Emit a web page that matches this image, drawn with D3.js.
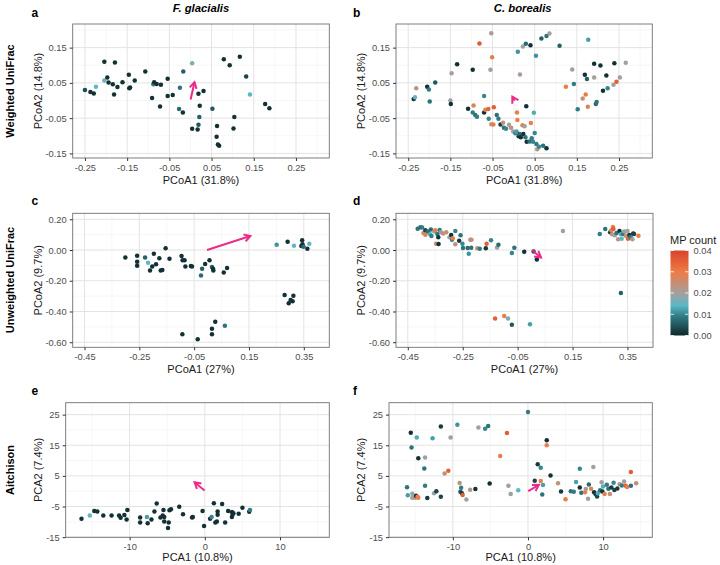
<!DOCTYPE html>
<html><head><meta charset="utf-8">
<script src="https://cdn.jsdelivr.net/npm/d3@7"></script>
<style>body{margin:0;background:#fff}svg{display:block}text{font-family:"Liberation Sans",Arial,Helvetica,sans-serif}</style>
</head><body><svg id="c" width="720" height="565"></svg>
<script>
// ---------- DATA ----------
// a: F. glacialis, weighted UniFrac
const aX=[-0.250,-0.237,-0.229,-0.224,-0.204,-0.204,-0.197,-0.194,-0.184,-0.179,-0.181,-0.173,-0.161,-0.146,-0.145,-0.143,-0.132,-0.107,-0.091,-0.088,-0.086,-0.080,-0.070,-0.072,-0.054,-0.054,-0.042,-0.025,-0.027,-0.017,-0.018,0.004,0.004,0.017,0.019,0.019,0.022,0.021,0.031,0.052,0.063,0.062,0.065,0.068,0.079,0.093,0.104,0.102,0.117,0.132,0.141,0.177,0.187];
const aY=[0.030,0.024,0.020,0.039,0.110,0.057,0.065,0.051,0.046,0.108,0.017,0.038,0.052,0.073,0.035,0.037,0.057,0.082,0.007,0.046,0.052,0.047,0.045,-0.017,0.062,0.013,0.016,0.036,-0.024,0.082,-0.034,0.106,-0.080,-0.082,-0.069,0.019,-0.015,-0.047,0.027,-0.023,-0.072,-0.103,-0.125,-0.128,0.117,0.100,-0.047,-0.079,0.124,0.068,0.017,-0.010,-0.022];
const aMP=[0.004,0.001,0.001,0.014,0.001,0.016,0.001,0.001,0.001,0.001,0.001,0.001,0.001,0.001,0.001,0.001,0.001,0.001,0.001,0.009,0.001,0.001,0.001,0.001,0.001,0.001,0.001,0.008,0.007,0.006,0.001,0.017,0.001,0.001,0.005,0.001,0.001,0.006,0.001,0.005,0.001,0.001,0.001,0.001,0.001,0.001,0.001,0.001,0.001,0.003,0.014,0.001,0.001];
const aArrow=[0.0004,0.003,0.0095,0.052];
// b: C. borealis, weighted UniFrac
const bX=[-0.237,-0.234,-0.231,-0.205,-0.201,-0.199,-0.186,-0.150,-0.149,-0.147,-0.134,-0.108,-0.097,-0.095,-0.097,-0.091,-0.087,-0.081,-0.070,-0.070,-0.067,-0.060,-0.059,-0.055,-0.053,-0.051,-0.053,-0.048,-0.047,-0.040,-0.036,-0.031,-0.025,-0.023,-0.018,-0.011,-0.006,-0.001,0.004,0.007,0.010,0.008,0.009,0.012,0.014,0.015,0.017,0.021,0.022,0.023,0.026,0.028,0.029,0.030,0.031,0.040,0.038,0.041,0.043,0.046,0.048,0.050,0.053,0.054,0.056,0.060,0.066,0.070,0.078,0.078,0.085,0.109,0.124,0.139,0.143,0.152,0.164,0.169,0.171,0.174,0.177,0.176,0.191,0.191,0.195,0.197,0.206,0.212,0.220,0.223,0.237,0.239,0.244,0.252,0.266];
const bY=[0.004,0.009,0.035,0.039,0.031,-0.003,0.051,0.000,-0.010,0.077,0.103,-0.023,0.087,-0.014,-0.034,-0.041,-0.046,0.162,0.013,-0.034,-0.026,-0.024,-0.052,0.087,0.191,0.123,-0.067,-0.068,-0.019,-0.041,-0.052,-0.068,-0.063,-0.077,-0.080,-0.069,-0.077,-0.088,-0.093,-0.088,0.138,-0.034,-0.055,-0.101,-0.095,0.074,-0.104,-0.070,0.153,-0.095,-0.073,-0.104,0.161,-0.016,-0.117,0.157,-0.116,-0.064,-0.107,-0.117,-0.035,-0.092,0.127,-0.123,-0.138,-0.131,0.176,-0.128,-0.135,0.183,0.190,0.155,0.039,0.088,0.047,-0.025,0.006,0.073,0.017,0.061,0.172,-0.018,0.104,0.065,-0.010,-0.004,0.099,0.028,0.071,0.035,0.045,0.106,0.053,0.065,0.107];
const bMP=[0.001,0.015,0.023,0.001,0.009,0.008,0.005,0.019,0.001,0.020,0.001,0.001,0.001,0.028,0.009,0.008,0.009,0.036,0.010,0.001,0.028,0.034,0.010,0.020,0.021,0.029,0.024,0.029,0.035,0.008,0.009,0.002,0.024,0.008,0.010,0.020,0.024,0.019,0.010,0.012,0.011,0.029,0.030,0.001,0.007,0.021,0.001,0.029,0.020,0.001,0.020,0.008,0.007,0.001,0.001,0.001,0.008,0.029,0.009,0.010,0.013,0.010,0.011,0.009,0.023,0.010,0.006,0.008,0.001,0.008,0.020,0.006,0.030,0.020,0.009,0.009,0.024,0.001,0.030,0.006,0.012,0.028,0.001,0.020,0.007,0.008,0.001,0.001,0.001,0.010,0.020,0.001,0.035,0.020,0.020];
const bArrow=[0.0024,-0.0004,-0.003,0.011];
// c: F. glacialis, unweighted UniFrac
const cX=[-0.301,-0.258,-0.258,-0.258,-0.229,-0.218,-0.211,-0.203,-0.197,-0.189,-0.177,-0.172,-0.166,-0.154,-0.140,-0.096,-0.092,-0.085,-0.082,-0.062,-0.058,-0.025,-0.021,-0.010,0.006,0.015,0.019,0.020,0.058,0.070,-0.093,-0.037,0.015,0.015,0.027,0.062,0.251,0.291,0.314,0.341,0.344,0.345,0.349,0.363,0.370,0.280,0.295,0.302,0.309,0.312];
const cY=[-0.048,-0.037,-0.076,-0.102,-0.048,-0.083,-0.133,-0.107,-0.024,-0.093,-0.054,-0.133,-0.130,0.011,-0.057,-0.039,-0.067,-0.067,-0.107,-0.104,-0.107,-0.165,-0.122,-0.091,-0.067,-0.111,-0.122,-0.133,-0.146,-0.117,-0.548,-0.580,-0.548,-0.513,-0.467,-0.493,0.035,0.054,0.028,0.026,0.063,0.037,0.022,0.009,0.041,-0.293,-0.346,-0.326,-0.333,-0.298];
const cMP=[0.001,0.001,0.001,0.001,0.006,0.014,0.001,0.001,0.001,0.001,0.001,0.001,0.001,0.001,0.001,0.001,0.001,0.001,0.001,0.001,0.001,0.007,0.006,0.001,0.001,0.006,0.001,0.001,0.001,0.001,0.001,0.001,0.001,0.001,0.001,0.008,0.011,0.001,0.015,0.001,0.001,0.001,0.007,0.001,0.015,0.001,0.001,0.001,0.001,0.001];
const cArrow=[-0.003,0.0,0.155,0.091];
// d: C. borealis, unweighted UniFrac
const dX=[-0.414,-0.404,-0.398,-0.393,-0.386,-0.386,-0.377,-0.369,-0.366,-0.364,-0.354,-0.350,-0.347,-0.342,-0.339,-0.338,-0.334,-0.329,-0.321,-0.310,-0.298,-0.292,-0.289,-0.286,-0.277,-0.277,-0.263,-0.258,-0.251,-0.249,-0.232,-0.228,-0.222,-0.218,-0.219,-0.197,-0.188,-0.166,-0.163,-0.147,-0.125,-0.120,-0.071,-0.062,-0.026,0.008,0.020,0.115,-0.132,-0.099,-0.085,-0.071,-0.005,0.249,0.269,0.287,0.291,0.297,0.299,0.294,0.304,0.310,0.316,0.321,0.326,0.329,0.335,0.338,0.344,0.350,0.352,0.357,0.362,0.368,0.371,0.374,0.390,0.326];
const dY=[0.139,0.148,0.146,0.111,0.128,0.100,0.120,0.102,0.133,0.091,0.120,0.128,0.041,0.104,0.083,0.039,0.130,0.115,0.107,0.115,0.083,0.098,0.067,0.076,0.124,0.037,0.061,0.096,0.041,0.013,0.013,-0.024,0.067,0.067,0.015,0.011,0.009,0.011,0.041,0.063,0.017,0.035,-0.020,0.015,-0.011,-0.009,-0.061,0.124,-0.446,-0.430,-0.446,-0.487,-0.483,0.104,0.137,0.115,0.128,0.150,0.137,0.102,0.096,0.111,0.070,0.124,0.102,0.074,0.104,0.120,0.093,0.124,0.074,0.098,0.083,0.070,0.107,0.104,0.093,-0.280];
const dMP=[0.008,0.007,0.009,0.024,0.003,0.029,0.008,0.013,0.007,0.009,0.019,0.029,0.024,0.008,0.002,0.001,0.009,0.020,0.024,0.024,0.019,0.001,0.009,0.029,0.010,0.024,0.002,0.008,0.010,0.008,0.007,0.011,0.029,0.023,0.008,0.024,0.009,0.002,0.035,0.010,0.019,0.007,0.010,0.008,0.001,0.004,0.001,0.020,0.035,0.029,0.017,0.005,0.012,0.009,0.008,0.002,0.028,0.029,0.035,0.024,0.020,0.008,0.023,0.001,0.013,0.014,0.007,0.019,0.024,0.020,0.035,0.002,0.009,0.020,0.001,0.003,0.030,0.006];
const dArrow=[0.002,-0.002,0.035,-0.048];
// e: F. glacialis, Aitchison
const eX=[-16.4,-15.3,-14.7,-14.3,-13.5,-12.4,-11.4,-11.2,-10.7,-10.3,-10.4,-8.6,-8.6,-7.7,-7.6,-7.1,-6.7,-6.4,-5.9,-5.6,-5.5,-5.4,-5.4,-4.9,-4.8,-4.7,-4.5,-3.4,-2.9,-1.7,-1.6,-0.3,-0.1,0.7,0.9,1.2,1.4,1.6,1.7,1.7,2.3,2.7,3.1,3.6,3.6,3.7,3.8,4.5,5.0,5.9,6.0];
const eY=[-9.0,-7.9,-6.5,-6.6,-7.9,-7.9,-7.9,-8.7,-7.8,-6.1,-9.2,-8.6,-10.2,-8.4,-10.5,-9.2,-6.6,-4.0,-8.6,-7.9,-6.1,-9.9,-8.4,-12.0,-10.2,-6.2,-5.9,-5.1,-7.5,-8.6,-8.4,-6.5,-11.4,-9.0,-8.4,-3.9,-10.2,-9.9,-6.6,-7.7,-4.2,-10.2,-6.5,-6.8,-8.4,-7.6,-7.2,-7.4,-5.4,-6.7,-6.1];
const eMP=[0.001,0.015,0.001,0.001,0.001,0.001,0.001,0.001,0.001,0.001,0.001,0.001,0.001,0.012,0.001,0.001,0.001,0.001,0.001,0.001,0.001,0.001,0.001,0.001,0.001,0.001,0.001,0.001,0.001,0.001,0.001,0.001,0.001,0.001,0.010,0.001,0.001,0.001,0.001,0.001,0.001,0.001,0.001,0.001,0.001,0.001,0.001,0.001,0.001,0.001,0.009];
const eArrow=[-0.04,0.2,-1.37,2.9];
// f: C. borealis, Aitchison
const fX=[-15.6,-14.8,-15.5,-14.6,-13.7,-13.8,-16.1,-16.0,-15.4,-15.4,-15.0,-14.9,-14.7,-14.6,-13.7,-13.4,-12.7,-12.5,-12.2,-11.6,-11.6,-11.1,-10.6,-10.3,-9.4,-9.1,-8.9,-9.0,-8.8,-8.7,-8.2,-7.7,-7.0,-6.6,-5.7,-5.3,-5.1,-3.7,-2.8,-2.6,-2.3,-1.3,0.0,0.9,1.3,1.7,1.7,2.0,1.9,2.5,2.5,3.0,4.0,4.4,5.0,5.7,6.1,6.4,6.9,6.9,7.1,7.6,7.7,8.0,8.1,8.4,8.7,8.8,9.0,9.2,9.3,9.6,9.8,9.9,10.0,10.2,10.5,10.7,10.9,11.1,11.4,11.5,11.9,12.2,12.5,12.8,13.0,13.2,13.7,13.7,14.4];
const fY=[19.1,17.5,14.3,10.8,11.0,7.4,1.3,-1.3,-0.8,-2.1,-2.1,-1.5,-1.8,-2.1,1.8,-2.2,17.3,-0.7,0.0,21.1,-1.8,5.8,6.7,17.5,21.7,2.7,1.1,-0.2,-0.7,-1.2,-2.7,0.5,0.7,20.8,20.4,21.3,2.5,11.5,19.0,1.8,-0.9,0.3,25.9,3.4,8.8,7.7,3.3,2.0,-1.1,16.6,15.0,5.1,2.6,-0.1,-2.6,0.0,-0.2,3.0,7.3,1.2,-0.5,-0.3,0.7,-2.5,2.2,0.8,7.9,-0.3,-0.9,-1.7,-0.7,0.3,2.9,-0.1,1.5,-0.9,2.1,0.8,-0.9,1.2,2.8,0.4,0.9,2.3,1.9,3.2,1.8,1.4,6.3,1.8,2.6];
const fMP=[0.001,0.013,0.008,0.001,0.019,0.008,0.008,0.012,0.019,0.020,0.024,0.001,0.030,0.029,0.009,0.002,0.012,0.019,0.003,0.002,0.003,0.024,0.035,0.020,0.011,0.023,0.009,0.006,0.002,0.035,0.020,0.022,0.001,0.020,0.010,0.008,0.001,0.029,0.035,0.020,0.019,0.014,0.009,0.003,0.002,0.010,0.029,0.012,0.008,0.001,0.029,0.001,0.024,0.002,0.030,0.008,0.009,0.012,0.010,0.001,0.008,0.029,0.020,0.019,0.007,0.028,0.020,0.001,0.002,0.003,0.013,0.008,0.020,0.001,0.013,0.029,0.009,0.008,0.024,0.002,0.010,0.003,0.002,0.024,0.009,0.020,0.035,0.029,0.035,0.008,0.024];
const fArrow=[0.04,0.0,1.46,2.07];

const uniTicksX=[-0.25,-0.15,-0.05,0.05,0.15,0.25];
const uniTicksY=[-0.15,-0.05,0.05,0.15];
const unwTicksX=[-0.45,-0.25,-0.05,0.15,0.35];
const unwTicksY=[-0.6,-0.4,-0.2,0.0,0.2];
const aitTicksX=[-10,0,10];
const aitTicksY=[-15,-5,5,15,25];
const mpTicks=[0,0.01,0.02,0.03,0.04];

const columnTitles=["F. glacialis","C. borealis"];
const rowTitles=["Weighted UniFrac","Unweighted UniFrac","Aitchison"];

// ---------- STYLE / LAYOUT ----------
const mpStops=[0,0.01,0.014,0.02,0.03,0.04];
const mpColors=["#0f272b","#35868f","#5ab8c7","#a39f9c","#ee7b44","#d7432a"];
const color=d3.scaleLinear().domain(mpStops).range(mpColors).clamp(true);
const svg=d3.select("#c");
const fmt2=v=>d3.format(".2f")(v).replace("\u2212","-");
const fmt0=v=>d3.format("d")(v).replace("\u2212","-");

function minorOf(ticks,dom){
  const st=ticks[1]-ticks[0];const out=[];
  for(let v=ticks[0]-st/2; v<=dom[1]+1e-9; v+=st){ if(v>=dom[0]) out.push(v);} 
  return out;
}

function drawPanel(p){
  const x=d3.scaleLinear().domain(p.xd).range([p.l,p.r]);
  const y=d3.scaleLinear().domain(p.yd).range([p.b,p.t]);
  const g=svg.append("g");
  g.append("rect").attr("x",p.l).attr("y",p.t).attr("width",p.r-p.l).attr("height",p.b-p.t).attr("fill","#fff");
  const gm=g.append("g").attr("stroke","#f1f1f1").attr("stroke-width",0.6);
  minorOf(p.xt,p.xd).forEach(v=>gm.append("line").attr("x1",x(v)).attr("x2",x(v)).attr("y1",p.t).attr("y2",p.b));
  minorOf(p.yt,p.yd).forEach(v=>gm.append("line").attr("y1",y(v)).attr("y2",y(v)).attr("x1",p.l).attr("x2",p.r));
  const gM=g.append("g").attr("stroke","#e3e3e3").attr("stroke-width",1);
  p.xt.forEach(v=>gM.append("line").attr("x1",x(v)).attr("x2",x(v)).attr("y1",p.t).attr("y2",p.b));
  p.yt.forEach(v=>gM.append("line").attr("y1",y(v)).attr("y2",y(v)).attr("x1",p.l).attr("x2",p.r));
  const n=Math.min(p.xs.length,p.ys.length,p.mp.length);
  const pts=d3.range(n).map(i=>({x:p.xs[i],y:p.ys[i],m:p.mp[i]}));
  g.append("g").selectAll("circle").data(pts).join("circle")
    .attr("cx",d=>x(d.x)).attr("cy",d=>y(d.y)).attr("r",2.25).attr("fill",d=>color(d.m));
  const ax1=x(p.arrow[0]),ay1=y(p.arrow[1]),ax2=x(p.arrow[2]),ay2=y(p.arrow[3]);
  const ang=Math.atan2(ay2-ay1,ax2-ax1),L=7,w=Math.PI/6;
  const w1=[ax2-L*Math.cos(ang-w),ay2-L*Math.sin(ang-w)],w2=[ax2-L*Math.cos(ang+w),ay2-L*Math.sin(ang+w)];
  const ag=g.append("g").attr("stroke","#ec2a8a").attr("stroke-width",2).attr("fill","none").attr("stroke-linecap","butt").attr("stroke-linejoin","miter");
  ag.append("line").attr("x1",ax1).attr("y1",ay1).attr("x2",ax2).attr("y2",ay2);
  ag.append("path").attr("d",`M${w1[0]},${w1[1]}L${ax2},${ay2}L${w2[0]},${w2[1]}`);
  g.append("rect").attr("x",p.l).attr("y",p.t).attr("width",p.r-p.l).attr("height",p.b-p.t).attr("fill","none").attr("stroke","#707070").attr("stroke-width",0.9);
  const xa=g.append("g").attr("transform",`translate(0,${p.b})`).call(d3.axisBottom(x).tickValues(p.xt).tickFormat(p.fx).tickSize(3).tickPadding(3));
  const ya=g.append("g").attr("transform",`translate(${p.l},0)`).call(d3.axisLeft(y).tickValues(p.yt).tickFormat(p.fy).tickSize(3).tickPadding(3));
  [xa,ya].forEach(a=>{a.select(".domain").remove();a.selectAll(".tick line").attr("stroke","#333");
    a.selectAll(".tick text").attr("fill","#4d4d4d").attr("font-size",9.3).attr("font-family","Liberation Sans, Arial, sans-serif");});
  g.append("text").attr("x",(p.l+p.r)/2).attr("y",p.b+p.xtOff).attr("dy","0.35em").attr("text-anchor","middle").attr("font-size",11).attr("fill","#1a1a1a").text(p.xlab);
  g.append("text").attr("transform",`translate(${p.ytx},${(p.t+p.b)/2}) rotate(-90)`).attr("dy","0.35em").attr("text-anchor","middle").attr("font-size",11).attr("fill","#1a1a1a").text(p.ylab);
  g.append("text").attr("x",p.lx).attr("y",p.ly).attr("font-size",12).attr("font-weight","bold").text(p.letter);
}

const rowUni={xd:[-0.279,0.329],yd:[-0.163,0.217],xt:uniTicksX,yt:uniTicksY,fx:fmt2,fy:fmt2,t:24,b:158,xtOff:22,xlab:"PCoA1 (31.8%)",ylab:"PCoA2 (14.8%)"};
const rowUnw={xd:[-0.493,0.443],yd:[-0.633,0.239],xt:unwTicksX,yt:unwTicksY,fx:fmt2,fy:fmt2,t:213.3,b:347.3,xtOff:21.5,xlab:"PCoA1 (27%)",ylab:"PCoA2 (9.7%)"};
const rowAit={xd:[-18.5,16.55],yd:[-15.05,28.9],xt:aitTicksX,yt:aitTicksY,fx:fmt0,fy:fmt0,t:402.7,b:537.3,xtOff:20,xlab:"PCA1 (10.8%)",ylab:"PCA2 (7.4%)"};

drawPanel(Object.assign({},rowUni,{l:72.7,r:329.3,ytx:38,lx:31.5,ly:16.5,letter:"a",xs:aX,ys:aY,mp:aMP,arrow:aArrow}));
drawPanel(Object.assign({},rowUni,{l:396,r:652.3,ytx:361,lx:353,ly:16.5,letter:"b",xs:bX,ys:bY,mp:bMP,arrow:bArrow}));
drawPanel(Object.assign({},rowUnw,{l:72.7,r:329.3,ytx:38,lx:31.5,ly:205,letter:"c",xs:cX,ys:cY,mp:cMP,arrow:cArrow}));
drawPanel(Object.assign({},rowUnw,{l:396,r:653,ytx:361,lx:353,ly:205,letter:"d",xs:dX,ys:dY,mp:dMP,arrow:dArrow}));
drawPanel(Object.assign({},rowAit,{l:65.7,r:329.3,ytx:38,lx:31.5,ly:395,letter:"e",xs:eX,ys:eY,mp:eMP,arrow:eArrow}));
drawPanel(Object.assign({},rowAit,{l:389,r:652.3,ytx:361,lx:353,ly:395,letter:"f",xs:fX,ys:fY,mp:fMP,arrow:fArrow}));

[201,522.7].forEach((cx,i)=>svg.append("text").attr("x",cx).attr("y",11.5).attr("text-anchor","middle").attr("font-size",11.3).attr("font-weight","bold").attr("font-style","italic").text(columnTitles[i]));
[91,280,470].forEach((cy,i)=>svg.append("text").attr("transform",`translate(10,${cy}) rotate(-90)`).attr("dy","0.35em").attr("text-anchor","middle").attr("font-size",11).attr("font-weight","bold").text(rowTitles[i]));

const lg=svg.append("g");
lg.append("text").attr("x",670).attr("y",244).attr("font-size",11).attr("fill","#1a1a1a").text("MP count");
const defs=svg.append("defs");
const grad=defs.append("linearGradient").attr("id","mpg").attr("x1",0).attr("y1",1).attr("x2",0).attr("y2",0);
d3.range(0,41).forEach(i=>{const v=i/1000;grad.append("stop").attr("offset",(i/40)).attr("stop-color",color(v));});
const ly=d3.scaleLinear().domain([0,0.04]).range([335.5,250.5]);
lg.append("rect").attr("x",670.5).attr("y",ly(0.04)).attr("width",18).attr("height",ly(0)-ly(0.04)).attr("fill","url(#mpg)");
const la=lg.append("g").attr("transform","translate(688.5,0)").call(d3.axisRight(ly).tickValues(mpTicks).tickFormat(fmt2).tickSize(0).tickPadding(5));
la.select(".domain").remove();
la.selectAll(".tick text").attr("fill","#4d4d4d").attr("font-size",9.3);
mpTicks.forEach(v=>{lg.append("line").attr("x1",670.5).attr("x2",674).attr("y1",ly(v)).attr("y2",ly(v)).attr("stroke","#fff").attr("stroke-opacity",0.8);
  lg.append("line").attr("x1",685).attr("x2",688.5).attr("y1",ly(v)).attr("y2",ly(v)).attr("stroke","#fff").attr("stroke-opacity",0.8);});
</script></body></html>
